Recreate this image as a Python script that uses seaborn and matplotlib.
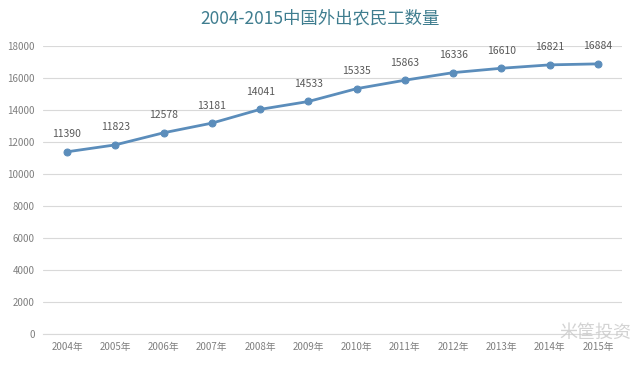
import matplotlib
matplotlib.use("Agg")
import matplotlib.pyplot as plt
import seaborn as sns
import pandas as pd

years = ["2004年", "2005年", "2006年", "2007年", "2008年", "2009年",
         "2010年", "2011年", "2012年", "2013年", "2014年", "2015年"]
workers = [11390, 11823, 12578, 13181, 14041, 14533,
           15335, 15863, 16336, 16610, 16821, 16884]

sns.set_style("white")
plt.rcParams['font.family'] = ['Noto Sans CJK SC', 'DejaVu Sans']

df = pd.DataFrame({"year": years, "workers": workers})

fig = plt.figure(figsize=(6.4, 3.68), dpi=100)
ax = fig.add_axes([0.067, 0.092, 0.905, 0.783])

sns.lineplot(data=df, x="year", y="workers", ax=ax, sort=False,
             color="#5b8dbb", linewidth=2, marker="o", markersize=5,
             markeredgecolor="#5b8dbb")

for i, v in enumerate(workers):
    ax.annotate(str(v), (i, v), xytext=(0, 9), textcoords="offset points",
                ha="center", va="bottom", fontsize=7.5, color="#595959")

ax.set_ylim(0, 18000)
ax.set_yticks(range(0, 18001, 2000))
ax.set_xlim(-0.5, len(years) - 0.5)
ax.grid(axis="y", color="#d9d9d9", linewidth=0.8)
ax.set_axisbelow(True)
for s in ["top", "right", "left"]:
    ax.spines[s].set_visible(False)
ax.spines["bottom"].set_color("#d9d9d9")
ax.tick_params(axis="both", length=0, labelsize=7, labelcolor="#7f7f7f", pad=6)
ax.set_xlabel("")
ax.set_ylabel("")

fig.text(0.5, 0.95, "2004-2015中国外出农民工数量", ha="center", va="center",
         fontsize=12.5, color="#3f7d8f")
fig.text(0.93, 0.095, "米筐投资", ha="center", va="center",
         fontsize=13, color="#c8c8c8", alpha=0.8)

fig.savefig("out.png", dpi=100)
